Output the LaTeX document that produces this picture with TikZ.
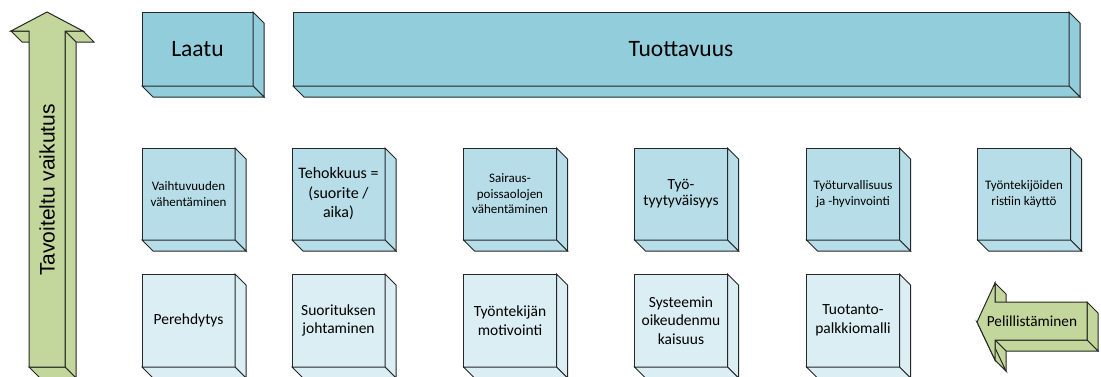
\documentclass[tikz,border=0pt]{standalone}
\usepackage{fontspec}
\setmainfont{Carlito}
\newfontfamily\arrowfont{Liberation Sans}
\usepackage{xcolor}
\usetikzlibrary{positioning,calc}

\definecolor{topblue}{HTML}{92CDDC}
\definecolor{midblue}{HTML}{B7DEE8}
\definecolor{lowblue}{HTML}{DBEEF4}
\definecolor{arrowgreen}{HTML}{C3D69B}
\definecolor{edgegray}{HTML}{262626}

\begin{document}
\begin{tikzpicture}[x=1pt,y=-1pt,
    face/.style={draw=edgegray, line width=1pt, line join=miter},
    block/.style={face, rectangle, outer sep=0pt, inner sep=1pt, align=center},
    topblock/.style={block, fill=topblue, minimum height=74pt, font=\fontsize{23.5}{27}\selectfont},
    midblock/.style={block, fill=midblue, minimum width=93pt, minimum height=92pt},
    lowblock/.style={block, fill=lowblue, minimum width=93pt, minimum height=93pt, font=\fontsize{15.5}{18.5}\selectfont},
    smalltext/.style={font=\fontsize{13}{15.5}\selectfont},
    bigtext/.style={font=\fontsize{15.5}{16}\selectfont},
    arrowbody/.style={face, fill=arrowgreen}]
    \useasboundingbox (0,0) rectangle (1101,376);

    % Goal arrow (up)
    \draw[arrowbody] (11,31) -- (29,31) -- (40,42) -- (22,42) -- cycle;
    \draw[arrowbody] (65,31) -- (83,31) -- (94,42) -- (76,42) -- cycle;
    \draw[arrowbody] (65,31) -- (76,42) -- (76,378) -- (65,367) -- cycle;
    \draw[arrowbody] (29,367) -- (65,367) -- (76,378) -- (40,378) -- cycle;
    \draw[arrowbody] (47,12) -- (83,31) -- (65,31) -- (65,367) -- (29,367) -- (29,31) -- (11,31) -- cycle;
    \node[rotate=90, font=\arrowfont\fontsize{21}{24}\selectfont] (tavoite) at (47,190) {Tavoiteltu vaikutus};

    % Top row
    \node[topblock, minimum width=111pt] (laatu) at (197.5,49) {Laatu};
    \node[topblock, minimum width=776pt] (tuotto) at (681,49) {Tuottavuus};

    % Middle row
    \node[midblock, smalltext] (vaihto) at (188.5,194) {Vaihtuvuuden\\vähentäminen};
    \node[midblock, font=\fontsize{16}{19.5}\selectfont] (tehokkuus) at (338.5,194) {Tehokkuus =\\(suorite /\\aika)};
    \node[midblock, smalltext] (sairaus) at (510,194) {Sairaus-\\poissaolojen\\vähentäminen};
    \node[midblock, bigtext] (tyytyv) at (681,194) {Työ-\\tyytyväisyys};
    \node[midblock, smalltext] (turva) at (853,194) {Työturvallisuus\\ja -hyvinvointi};
    \node[midblock, smalltext] (ristiin) at (1024,194) {Työntekijöiden\\ristiin käyttö};

    % Bottom row
    \node[lowblock] (pereh) at (188.5,320.5) {Perehdytys};
    \node[lowblock] (suorit) at (338.5,320.5) {Suorituksen\\johtaminen};
    \node[lowblock] (motiv) at (510,320.5) {Työntekijän\\motivointi};
    \node[lowblock] (systeemi) at (681,320.5) {Systeemin\\oikeudenmu\\kaisuus};
    \node[lowblock] (palkkio) at (853,320.5) {Tuotanto-\\palkkiomalli};

    % Depth faces
    \foreach \n/\c in {laatu/topblue, tuotto/topblue, vaihto/midblue, tehokkuus/midblue,
        sairaus/midblue, tyytyv/midblue, turva/midblue, ristiin/midblue, pereh/lowblue,
        suorit/lowblue, motiv/lowblue, systeemi/lowblue, palkkio/lowblue}{
      \draw[face, fill=\c] (\n.north east) -- ++(11,11) -- ($(\n.south east)+(11,11)$) -- (\n.south east) -- cycle;
      \draw[face, fill=\c] (\n.south west) -- (\n.south east) -- ++(11,11) -- ($(\n.south west)+(11,11)$) -- cycle;
    }

    % Gamification arrow (left)
    \draw[arrowbody] (995,283) -- (1006,294) -- (1006,313) -- (995,302) -- cycle;
    \draw[arrowbody] (1087,302) -- (1098,313) -- (1098,351) -- (1087,340) -- cycle;
    \draw[arrowbody] (995,340) -- (1087,340) -- (1098,351) -- (1006,351) -- cycle;
    \draw[arrowbody] (995,340) -- (995,360) -- (1006,371) -- (1006,351) -- cycle;
    \draw[arrowbody] (977,322) -- (995,360) -- (1006,371) -- (988,333) -- cycle;
    \draw[arrowbody] (977,322) -- (995,283) -- (995,302) -- (1087,302) -- (1087,340) -- (995,340) -- (995,360) -- cycle;
    \node[font=\fontsize{15.3}{18}\selectfont] (pelil) at (1032,321) {Pelillistäminen};
\end{tikzpicture}
\end{document}
